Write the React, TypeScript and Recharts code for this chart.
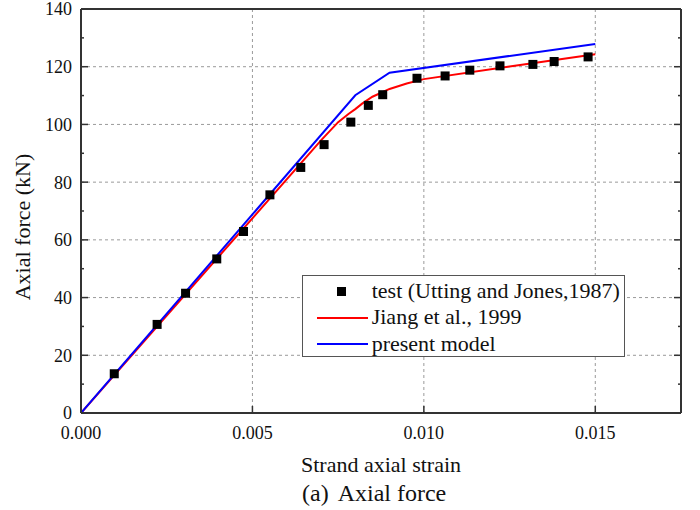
import React from 'react';
import { ComposedChart, XAxis, YAxis, CartesianGrid, Line, Scatter } from 'recharts';

// Test data (Utting and Jones, 1987)
const testStrain = [0.00097, 0.00222, 0.00305, 0.00396, 0.00474, 0.00551, 0.00641, 0.00709, 0.00787, 0.00838, 0.0088, 0.0098, 0.01062, 0.01134, 0.01222, 0.01318, 0.0138, 0.01479];
const testForce = [13.6, 30.7, 41.5, 53.4, 62.9, 75.6, 85.1, 93.0, 100.8, 106.6, 110.3, 116.0, 116.8, 118.8, 120.3, 120.8, 121.8, 123.4];

// Jiang et al., 1999
const jiangStrain = [0, 0.007, 0.0075, 0.0078, 0.008, 0.0082, 0.0085, 0.009, 0.0095, 0.01, 0.0125, 0.015];
const jiangForce = [0, 94.5, 100.8, 103.6, 105.3, 107.2, 109.6, 112.3, 114.2, 115.7, 120.1, 124.3];

// present model
const modelStrain = [0, 0.008, 0.009, 0.015];
const modelForce = [0, 110.1, 117.9, 127.9];

const xMajorTicks = [0, 0.005, 0.01, 0.015];
const xMinorTicks = [0.0025, 0.0075, 0.0125];
const yMajorTicks = [0, 20, 40, 60, 80, 100, 120, 140];
const yMinorTicks = [10, 30, 50, 70, 90, 110, 130];
const xDomain = [0, 0.0175];
const yDomain = [0, 140];

const seriesNames = ['test (Utting and Jones,1987)', 'Jiang et al., 1999', 'present model'];
const xTitle = 'Strand axial strain';
const yTitle = 'Axial force (kN)';
const captionTag = '(a)';
const captionText = 'Axial force';

const testData = testStrain.map((x, i) => ({ x, y: testForce[i] }));
const jiangData = jiangStrain.map((x, i) => ({ x, y: jiangForce[i] }));
const modelData = modelStrain.map((x, i) => ({ x, y: modelForce[i] }));

const FONT = '"Liberation Serif", "Times New Roman", serif';
const AXIS = '#333';
const tickStyle = { fontSize: 18, fill: '#111', fontFamily: FONT };

const Square = (props: any) => {
  const { cx, cy } = props;
  if (cx == null || cy == null) return null;
  return <rect x={cx - 4.5} y={cy - 4.5} width={9} height={9} fill="#000" />;
};

const blank = () => '';

export default function App() {
  return (
    <div style={{ position: 'absolute', left: 0, top: 0, width: 700, height: 510, background: '#fff', fontFamily: FONT }}>
      <ComposedChart width={700} height={510} margin={{ top: 7, right: 17, bottom: 95, left: 79 }}>
        <CartesianGrid xAxisId="x" yAxisId="y" stroke="#9a9a9a" strokeDasharray="3 3" strokeWidth={1} />
        <XAxis xAxisId="x" dataKey="x" type="number" domain={xDomain} ticks={xMajorTicks} interval={0}
          allowDataOverflow orientation="bottom" height={1} tickSize={-7} tickMargin={20}
          tickFormatter={(v: number) => v.toFixed(3)} tick={tickStyle}
          axisLine={{ stroke: AXIS, strokeWidth: 2 }} tickLine={{ stroke: AXIS, strokeWidth: 1.5 }} />
        <XAxis xAxisId="xb" type="number" domain={xDomain} ticks={xMinorTicks} interval={0}
          allowDataOverflow orientation="bottom" height={1} tickSize={-4} tickFormatter={blank}
          axisLine={false} tickLine={{ stroke: AXIS, strokeWidth: 1.5 }} />
        <XAxis xAxisId="xt" type="number" domain={xDomain} ticks={xMajorTicks} interval={0}
          allowDataOverflow orientation="top" height={1} tickSize={-7} tickFormatter={blank}
          axisLine={{ stroke: AXIS, strokeWidth: 2 }} tickLine={{ stroke: AXIS, strokeWidth: 1.5 }} />
        <XAxis xAxisId="xtm" type="number" domain={xDomain} ticks={xMinorTicks} interval={0}
          allowDataOverflow orientation="top" height={1} tickSize={-4} tickFormatter={blank}
          axisLine={false} tickLine={{ stroke: AXIS, strokeWidth: 1.5 }} />
        <YAxis yAxisId="y" dataKey="y" type="number" domain={yDomain} ticks={yMajorTicks} interval={0}
          allowDataOverflow orientation="left" width={1} tickSize={-7} tickMargin={16} tick={tickStyle}
          axisLine={{ stroke: AXIS, strokeWidth: 2 }} tickLine={{ stroke: AXIS, strokeWidth: 1.5 }} />
        <YAxis yAxisId="ym" type="number" domain={yDomain} ticks={yMinorTicks} interval={0}
          allowDataOverflow orientation="left" width={1} tickSize={-4} tickFormatter={blank}
          axisLine={false} tickLine={{ stroke: AXIS, strokeWidth: 1.5 }} />
        <YAxis yAxisId="yr" type="number" domain={yDomain} ticks={yMajorTicks} interval={0}
          allowDataOverflow orientation="right" width={1} tickSize={-7} tickFormatter={blank}
          axisLine={{ stroke: AXIS, strokeWidth: 2 }} tickLine={{ stroke: AXIS, strokeWidth: 1.5 }} />
        <YAxis yAxisId="yrm" type="number" domain={yDomain} ticks={yMinorTicks} interval={0}
          allowDataOverflow orientation="right" width={1} tickSize={-4} tickFormatter={blank}
          axisLine={false} tickLine={{ stroke: AXIS, strokeWidth: 1.5 }} />
        <Line xAxisId="x" yAxisId="y" data={jiangData} dataKey="y" type="linear" stroke="#ff0000"
          strokeWidth={2} dot={false} activeDot={false} isAnimationActive={false} name={seriesNames[1]} />
        <Line xAxisId="x" yAxisId="y" data={modelData} dataKey="y" type="linear" stroke="#0000ff"
          strokeWidth={2} dot={false} activeDot={false} isAnimationActive={false} name={seriesNames[2]} />
        <Scatter xAxisId="x" yAxisId="y" data={testData} dataKey="y" fill="#000" shape={Square}
          isAnimationActive={false} name={seriesNames[0]} />
      </ComposedChart>

      {/* Y axis title */}
      <div style={{ position: 'absolute', left: 23 - 110, top: 227 - 13, width: 220, height: 26, lineHeight: '26px',
        textAlign: 'center', fontSize: 22, color: '#111', transform: 'rotate(-90deg)', whiteSpace: 'nowrap' }}>
        {yTitle}
      </div>
      {/* X axis title */}
      <div style={{ position: 'absolute', left: 381 - 150, top: 452, width: 300, height: 26, lineHeight: '26px',
        textAlign: 'center', fontSize: 22, color: '#111', whiteSpace: 'nowrap' }}>
        {xTitle}
      </div>
      {/* Caption */}
      <div style={{ position: 'absolute', left: 302, top: 478.9, height: 28, lineHeight: '28px',
        fontSize: 24, color: '#111', whiteSpace: 'nowrap' }}>
        {captionTag}
        <span style={{ marginLeft: 9 }}>{captionText}</span>
      </div>

      {/* Legend */}
      <div style={{ position: 'absolute', left: 302, top: 275, width: 323, height: 82, boxSizing: 'border-box',
        border: '1px solid #555', background: '#fff' }}>
        <div style={{ position: 'absolute', left: 34.2, top: 11.2, width: 9, height: 9, background: '#000' }} />
        <div style={{ position: 'absolute', left: 13.7, top: 40.7, width: 51, height: 2, background: '#ff0000' }} />
        <div style={{ position: 'absolute', left: 13.7, top: 67.3, width: 51, height: 2, background: '#0000ff' }} />
        {seriesNames.map((n, i) => (
          <div key={n} style={{ position: 'absolute', left: 68.7, top: 1.9 + 26.5 * i, height: 26, lineHeight: '26px',
            fontSize: 22, color: '#111', whiteSpace: 'nowrap' }}>{n}</div>
        ))}
      </div>
    </div>
  );
}
